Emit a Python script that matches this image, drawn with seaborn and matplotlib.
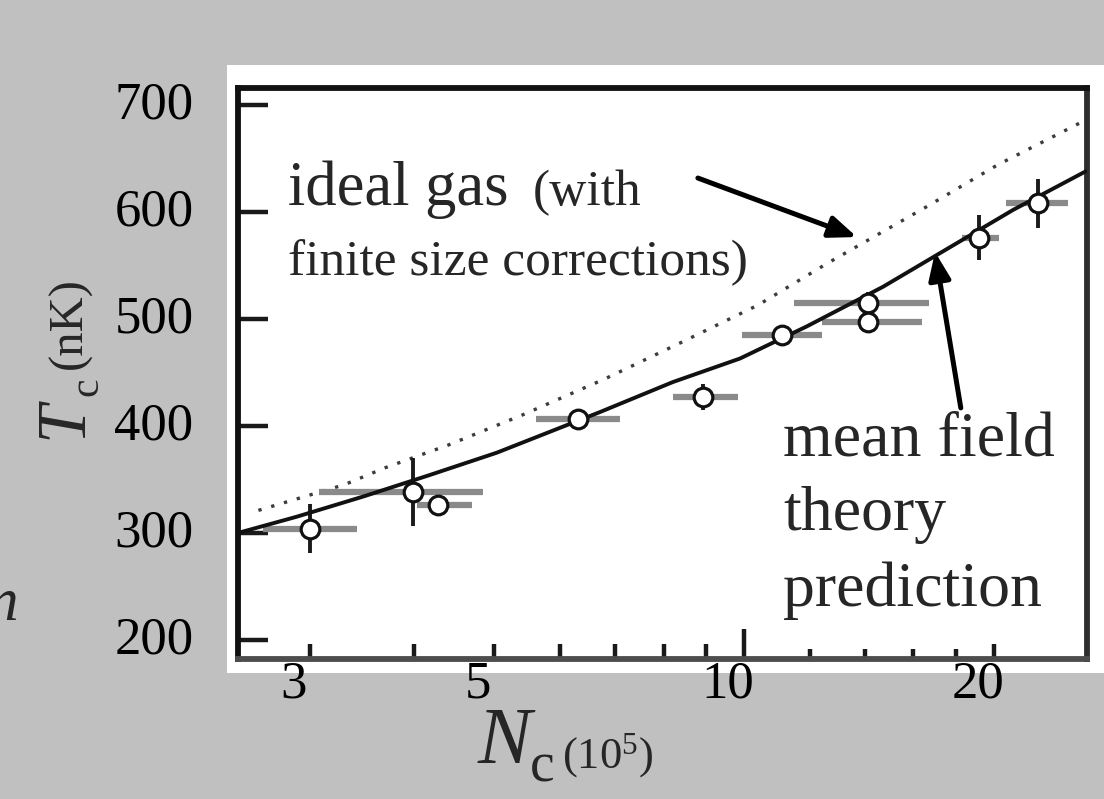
import numpy as np
import pandas as pd
import matplotlib
matplotlib.use("Agg")
import matplotlib.pyplot as plt
import seaborn as sns
from matplotlib.patches import Rectangle
from matplotlib.ticker import NullLocator
from matplotlib import transforms

# ---------------- data ----------------
atom_number = [3.00, 3.99, 4.28, 6.31, 8.93, 11.1, 14.1, 14.1, 19.2, 22.6]
tc_measured = [304, 338, 326, 406, 427, 485, 515, 497, 576, 608]
atom_number_low = [2.63, 3.08, 4.04, 5.61, 8.21, 9.94, 11.5, 12.4, 18.3, 20.7]
atom_number_high = [3.42, 4.85, 4.70, 7.09, 9.83, 12.4, 16.7, 16.4, 20.3, 24.6]
tc_error = [23, 32, 8, 8, 12, 8, 10, 10, 21, 23]

ideal_gas_N = [2.6, 3.3, 3.7, 4.4, 5.4, 6.8, 8.4, 10.4, 12.6, 16.6, 20.2, 25.5]
ideal_gas_T = [321, 345, 361, 382, 410, 444, 478, 513, 552, 605, 644, 684]

mean_field_N = [2.46, 2.89, 3.48, 4.18, 5.04, 6.71, 8.21, 9.89, 11.9, 14.7, 16.75, 21.1, 25.8]
mean_field_T = [300, 315, 334, 354, 375, 413, 441, 463, 493, 530, 556, 602, 638]

x_ticks = [3, 4, 5, 6, 7, 8, 9, 10, 12, 14, 16, 18, 20]
x_tick_labels = ["3", "", "5", "", "", "", "", "10", "", "", "", "", "20"]
y_ticks = [200, 300, 400, 500, 600, 700]
y_tick_labels = ["200", "300", "400", "500", "600", "700"]

# ---------------- style ----------------
sns.set_theme(style="white")
plt.rcParams["font.family"] = ["Liberation Serif", "DejaVu Serif"]
plt.rcParams["mathtext.fontset"] = "custom"
plt.rcParams["mathtext.rm"] = "Liberation Serif"
plt.rcParams["mathtext.it"] = "Liberation Serif:italic"

W, H = 1104, 799
fig = plt.figure(figsize=(W / 100, H / 100), dpi=100, facecolor="#c0c0c0")


def fx(x):
    return x / W


def fy(y):
    return 1 - y / H


# white panel behind the plot
fig.patches.append(Rectangle((fx(227), fy(673)), (W - 227) / W, (673 - 65) / H,
                             transform=fig.transFigure, facecolor="white",
                             edgecolor="none", zorder=-1))

ax = fig.add_axes([fx(238), fy(659), (1087 - 238) / W, (659 - 88) / H])
ax.set_facecolor("white")

# curves
df_ideal = pd.DataFrame({"N": ideal_gas_N, "T": ideal_gas_T})
df_mf = pd.DataFrame({"N": mean_field_N, "T": mean_field_T})
sns.lineplot(data=df_ideal, x="N", y="T", ax=ax, color="#3c3c3c", lw=2.4,
             linestyle=(0, (1, 3)), zorder=2)
sns.lineplot(data=df_mf, x="N", y="T", ax=ax, color="#111111", lw=2.8, zorder=4)

# error bars
xn = np.array(atom_number)
xerr = [xn - np.array(atom_number_low), np.array(atom_number_high) - xn]
ax.errorbar(atom_number, tc_measured, xerr=xerr, fmt="none", ecolor="#8a8a8a",
            elinewidth=4.5, capsize=0, zorder=3)
ax.errorbar(atom_number, tc_measured, yerr=tc_error, fmt="none", ecolor="#1a1a1a",
            elinewidth=2.8, capsize=0, zorder=3.5)

# points
df_pts = pd.DataFrame({"N": atom_number, "T": tc_measured})
sns.scatterplot(data=df_pts, x="N", y="T", ax=ax, marker="o", s=180,
                color="white", edgecolor="#111111", linewidth=2.3, zorder=6)

# axes
ax.set_xscale("log")
ax.set_xlim(2.457, 25.9)
ax.set_ylim(182, 716)
ax.set_xticks(x_ticks)
ax.set_xticklabels(x_tick_labels)
ax.xaxis.set_minor_locator(NullLocator())
ax.set_yticks(y_ticks)
ax.set_yticklabels(y_tick_labels)
ax.yaxis.set_minor_locator(NullLocator())
ax.set_xlabel("")
ax.set_ylabel("")
ax.tick_params(axis="both", which="both", direction="in", labelsize=38,
               labelcolor="black", color="#1a1a1a", width=3.2, length=21.6,
               bottom=True, left=True, top=False, right=False)
ax.tick_params(axis="x", pad=1.0)
ax.tick_params(axis="y", pad=32)

spine_colors = {"left": "#111111", "top": "#111111", "right": "#2e2e2e", "bottom": "#4d4d4d"}
for side, sp in ax.spines.items():
    sp.set_visible(True)
    sp.set_linewidth(4.2)
    sp.set_color(spine_colors[side])

# individual x tick lengths (points)
x_tick_len = [10.8] * 7 + [21.6] + [7.0] * 4 + [10.8]
for t, L in zip(ax.xaxis.get_major_ticks(), x_tick_len):
    t.tick1line.set_markersize(L)

# label offsets
xoff = transforms.ScaledTranslation(-16 / 100, 0, fig.dpi_scale_trans)
for lbl in ax.get_xticklabels():
    lbl.set_transform(lbl.get_transform() + xoff)
yoff = transforms.ScaledTranslation(0, 5 / 100, fig.dpi_scale_trans)
for lbl in ax.get_yticklabels():
    lbl.set_transform(lbl.get_transform() + yoff)

# annotations (text)
fig.text(fx(288), fy(205), "ideal gas", fontsize=45, va="baseline", ha="left")
fig.text(fx(533), fy(205), "(with", fontsize=37, va="baseline", ha="left")
fig.text(fx(288), fy(275), "finite size corrections)", fontsize=37, va="baseline", ha="left")
fig.text(fx(783), fy(455), "mean field", fontsize=46, va="baseline", ha="left")
fig.text(fx(783), fy(530), "theory", fontsize=46, va="baseline", ha="left")
fig.text(fx(783), fy(606), "prediction", fontsize=46, va="baseline", ha="left")

# arrows
arrow_kw = dict(arrowstyle="-|>,head_length=0.55,head_width=0.22", color="black",
                lw=3.6, mutation_scale=30, shrinkA=0, shrinkB=0)
ax.annotate("", xy=(13.68, 576.6), xytext=(8.80, 631.8), xycoords="data",
            arrowprops=arrow_kw)
ax.annotate("", xy=(16.99, 562.6), xytext=(18.25, 416.8), xycoords="data",
            arrowprops=arrow_kw)

# axis titles
fig.text(fx(81), fy(420), "T", fontsize=50, style="italic", rotation=90,
         rotation_mode="anchor", ha="center", va="baseline")
fig.text(fx(97), fy(387), "c", fontsize=30, rotation=90,
         rotation_mode="anchor", ha="center", va="baseline")
fig.text(fx(81), fy(323), "(nK)", fontsize=35, rotation=90,
         rotation_mode="anchor", ha="center", va="baseline")

fig.text(fx(478), fy(763), "N", fontsize=58, style="italic", ha="left", va="baseline")
fig.text(fx(530), fy(782), "c", fontsize=40, ha="left", va="baseline")
fig.text(fx(562), fy(768), r"(10$^{5}$)", fontsize=32, ha="left", va="baseline")

# stray clipped letter at the left edge
fig.text(fx(18), fy(620), "n", fontsize=44, style="italic", ha="right", va="baseline")

fig.savefig("out.png", dpi=100, facecolor=fig.get_facecolor())
